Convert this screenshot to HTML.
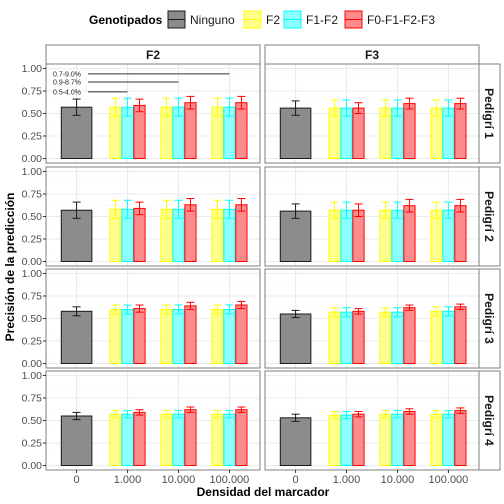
<!DOCTYPE html>
<html><head><meta charset="utf-8"><style>
body{margin:0;background:#fff}
svg{font-family:"Liberation Sans",sans-serif;display:block}
</style></head><body>
<svg id="c" width="504" height="504" xmlns="http://www.w3.org/2000/svg"></svg>
<script>
const categories=["0","1.000","10.000","100.000"];
const facetsCol=["F2","F3"];
const facetsRow=["Pedigrí 1","Pedigrí 2","Pedigrí 3","Pedigrí 4"];
const yTicks=[0,0.25,0.5,0.75,1];
const yTickLabels=["0.00","0.25","0.50","0.75","1.00"];
// ninguno value [row][col], error half-width
const ningunoVal=[[0.57,0.56],[0.57,0.56],[0.58,0.55],[0.55,0.53]];
const ningunoErr=[[0.09,0.08],[0.09,0.08],[0.05,0.04],[0.04,0.04]];
// per row/col: per category 1..3: [F2, F1-F2, F0-F1-F2-F3]
const f2Val=[[[0.57,0.57,0.57],[0.56,0.56,0.56]],[[0.58,0.58,0.58],[0.57,0.57,0.57]],[[0.60,0.60,0.60],[0.57,0.57,0.58]],[[0.57,0.57,0.57],[0.56,0.57,0.57]]];
const f1f2Val=[[[0.57,0.57,0.57],[0.56,0.56,0.56]],[[0.58,0.58,0.58],[0.57,0.57,0.57]],[[0.60,0.60,0.60],[0.57,0.57,0.58]],[[0.57,0.57,0.57],[0.56,0.57,0.57]]];
const f0Val=[[[0.59,0.62,0.62],[0.56,0.61,0.61]],[[0.59,0.63,0.63],[0.57,0.62,0.62]],[[0.61,0.64,0.65],[0.58,0.62,0.63]],[[0.59,0.62,0.62],[0.57,0.60,0.61]]];
const f2Err=[[0.1,0.09],[0.1,0.09],[0.05,0.05],[0.04,0.04]];
const f0Err=[[0.07,0.06],[0.07,0.07],[0.04,0.03],[0.03,0.03]];
const annotLabels=["0.7-9.0%","0.9-8.7%","0.5-4.0%"];
const annotY=[0.94,0.85,0.74];
const annotEndCat=[3,2,1];
const seriesNames=["Ninguno","F2","F1-F2","F0-F1-F2-F3"];
const fills=["#8c8c8c","#ffff8c","#8cffff","#ff8c8c"];
const strokes=["#1a1a1a","#ffff00","#00ffff","#ff0000"];

const svg=document.getElementById('c');
const NS="http://www.w3.org/2000/svg";
function el(t,a,p){const e=document.createElementNS(NS,t);for(const k in a)e.setAttribute(k,a[k]);(p||svg).appendChild(e);return e;}
const colX=[46,265],panW=214;
const rowY=[64,167,269,371],panH=99;
function xs(col,i){return colX[col]+panW*(0.6+i)/4.2;}
function ys(row,v){return rowY[row]+panH*(1.05-v)/1.1;}
const band=panW/4.2;

for(let r=0;r<4;r++)for(let c=0;c<2;c++){
  const g=el('g',{});
  
  
  el('rect',{x:colX[c],y:rowY[r],width:panW,height:panH,fill:'#fff'},g);
  for(let t=0;t<4;t++){const v=0.125+0.25*t;el('line',{x1:colX[c],x2:colX[c]+panW,y1:ys(r,v),y2:ys(r,v),stroke:'#f5f5f5','stroke-width':0.6},g);}
  yTicks.forEach(v=>el('line',{x1:colX[c],x2:colX[c]+panW,y1:ys(r,v),y2:ys(r,v),stroke:'#ebebeb','stroke-width':1.1},g));
  categories.forEach((_,i)=>el('line',{x1:xs(c,i),x2:xs(c,i),y1:rowY[r],y2:rowY[r]+panH,stroke:'#ebebeb','stroke-width':1.1},g));
  function bar(x,w,v,e,s,name){
    const b=el('rect',{x:x-w/2,y:ys(r,v),width:w,height:ys(r,0)-ys(r,v),fill:fills[s],stroke:strokes[s],'stroke-width':1},g);
    
    
    const y1=ys(r,v-e),y2=ys(r,v+e);
    el('line',{x1:x,x2:x,y1:y1,y2:y2,stroke:strokes[s],'stroke-width':1},g);
    el('line',{x1:x-4,x2:x+4,y1:y1,y2:y1,stroke:strokes[s],'stroke-width':1},g);
    el('line',{x1:x-4,x2:x+4,y1:y2,y2:y2,stroke:strokes[s],'stroke-width':1},g);
  }
  bar(xs(c,0),band*0.6,ningunoVal[r][c],ningunoErr[r][c],0,'bar-ninguno');
  for(let i=1;i<4;i++){
    const cx=xs(c,i),w=band*0.22,off=band*0.235;
    bar(cx-off,w,f2Val[r][c][i-1],f2Err[r][c],1,'bar-f2');
    bar(cx,w,f1f2Val[r][c][i-1],f2Err[r][c],2,'bar-f1-f2');
    bar(cx+off,w,f0Val[r][c][i-1],f0Err[r][c],3,'bar-f0-f1-f2-f3');
  }
  el('rect',{x:colX[c],y:rowY[r],width:panW,height:panH,fill:'none',stroke:'#7f7f7f','stroke-width':1},g);
  if(c==0){
    yTicks.forEach((v,i)=>{
      el('line',{x1:colX[0]-3,x2:colX[0],y1:ys(r,v),y2:ys(r,v),stroke:'#333'});
      const t=el('text',{x:colX[0]-4,y:ys(r,v)+3.5,'font-size':10.5,'text-anchor':'end',fill:'#4d4d4d'});t.textContent=yTickLabels[i];
      
    });
  }
  if(r==0&&c==0){
    annotLabels.forEach((l,k)=>{
      const y=ys(0,annotY[k]);
      el('line',{x1:88,x2:xs(0,annotEndCat[k]),y1:y,y2:y,stroke:'#333','stroke-width':1});
      const t=el('text',{x:53,y:y+2.5,'font-size':7,fill:'#222'});t.textContent=l;
      
    });
  }
}
// strips
facetsCol.forEach((f,c)=>{
  const s=el('rect',{x:colX[c],y:45,width:panW,height:19,fill:'#fff',stroke:'#7f7f7f'});
  
  const t=el('text',{x:colX[c]+panW/2,y:59,'font-size':12,'font-weight':'bold','text-anchor':'middle',fill:'#1a1a1a'});t.textContent=f;
  
});
facetsRow.forEach((f,r)=>{
  const s=el('rect',{x:479,y:rowY[r],width:21,height:panH,fill:'#fff',stroke:'#7f7f7f'});
  
  const cy=rowY[r]+panH/2;
  const t=el('text',{x:485,y:cy,'font-size':12,'font-weight':'bold','text-anchor':'middle',fill:'#1a1a1a',transform:`rotate(90 485 ${cy})`});t.textContent=f;
  
});
// x ticks
[0,1].forEach(c=>categories.forEach((l,i)=>{
  el('line',{x1:xs(c,i),x2:xs(c,i),y1:470,y2:473,stroke:'#333'});
  const t=el('text',{x:xs(c,i),y:483,'font-size':11,'text-anchor':'middle',fill:'#4d4d4d'});t.textContent=l;
  
}));
let t=el('text',{x:263,y:496,'font-size':12,'font-weight':'bold','text-anchor':'middle',fill:'#000'});t.textContent="Densidad del marcador";

t=el('text',{x:14,y:267,'font-size':12,'font-weight':'bold','text-anchor':'middle',fill:'#000',transform:'rotate(-90 14 267)'});t.textContent="Precisión de la predicción";

// legend
t=el('text',{x:89,y:24,'font-size':12,'font-weight':'bold',fill:'#000'});t.textContent="Genotipados";

const lx=[168,244,284,345];
seriesNames.forEach((n,i)=>{
  const g=el('g',{});
  
  
  el('rect',{x:lx[i],y:11,width:17,height:17,fill:fills[i],stroke:strokes[i],'stroke-width':1},g);
  el('line',{x1:lx[i],x2:lx[i]+17,y1:19.5,y2:19.5,stroke:strokes[i],'stroke-width':1},g);
  const tt=el('text',{x:lx[i]+22,y:24,'font-size':12,fill:'#1a1a1a'},g);tt.textContent=n;
});
</script>
</body></html>
